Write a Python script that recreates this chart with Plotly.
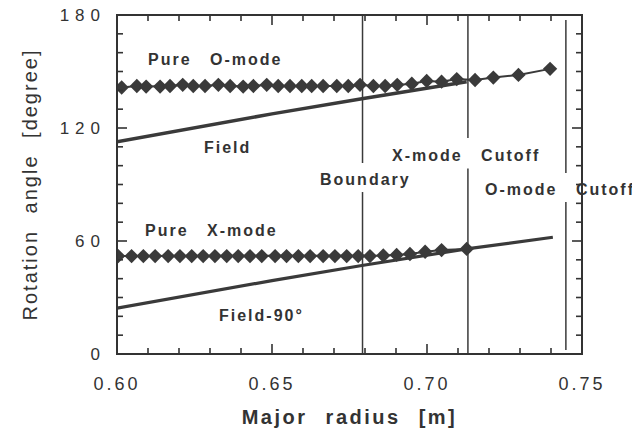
import plotly.graph_objects as go

# ---------------- data ----------------
o_x = [0.6015, 0.6064, 0.6094, 0.6139, 0.6171, 0.6212, 0.6246, 0.6284, 0.6327, 0.6365,
       0.6407, 0.6440, 0.6483, 0.6520, 0.6558, 0.6596, 0.6628, 0.6665, 0.6709, 0.6746,
       0.6784, 0.6827, 0.6865, 0.6904, 0.6951, 0.6999, 0.7047, 0.7096, 0.7155, 0.7214,
       0.7295, 0.7397]
o_y = [141.5, 142.3, 142.0, 142.0, 142.3, 142.9, 142.3, 142.3, 142.9, 142.3,
       142.0, 142.3, 142.9, 142.3, 142.3, 142.3, 142.3, 142.3, 142.3, 142.3,
       142.9, 142.3, 142.3, 142.9, 143.5, 145.0, 144.6, 146.0, 145.5, 146.8,
       148.2, 151.4]

x_x = [0.6004, 0.6047, 0.6085, 0.6123, 0.6165, 0.6203, 0.6241, 0.6278, 0.6316, 0.6354,
       0.6391, 0.6429, 0.6467, 0.6510, 0.6547, 0.6585, 0.6623, 0.6665, 0.6703, 0.6741,
       0.6778, 0.6816, 0.6859, 0.6902, 0.6945, 0.6994, 0.7047, 0.7128]
x_y = [52.0, 52.0, 52.0, 52.0, 52.0, 52.0, 52.0, 52.0, 52.0, 52.0,
       52.0, 52.0, 52.0, 52.0, 52.0, 52.0, 52.0, 52.0, 52.0, 52.0,
       52.0, 52.0, 52.3, 52.6, 53.1, 54.3, 55.2, 55.8]

field_x = [0.600, 0.650, 0.679, 0.7128]
field_y = [112.7, 127.5, 135.5, 144.6]

field90_x = [0.600, 0.650, 0.679, 0.7128, 0.7406]
field90_y = [24.3, 39.0, 47.0, 55.8, 62.0]

# vertical marker lines (position, top, gap top, gap bottom, bottom)
vline_x = [0.6792, 0.7132, 0.7448]
vline_top = [180.0, 180.0, 177.4]
vline_gap_hi = [101.4, 114.7, 96.1]
vline_gap_lo = [86.0, 98.5, 80.7]
vline_bottom = [0.0, 0.0, 2.1]

label_text = ["Pure O-mode", "Field", "Boundary", "X-mode Cutoff",
              "O-mode Cutoff", "Pure X-mode", "Field-90°"]
label_x = [0.6316, 0.6358, 0.6800, 0.7126, 0.7430, 0.6306, 0.6467]
label_y = [156.3, 109.9, 92.4, 105.6, 87.1, 65.6, 20.7]

x_ticks = [0.60, 0.65, 0.70, 0.75]
x_ticktext = ["0.60", "0.65", "0.70", "0.75"]
x_minor = [0.61, 0.62, 0.63, 0.64, 0.66, 0.67, 0.68, 0.69, 0.71, 0.72, 0.73, 0.74]
y_ticks = [0, 60, 120, 180]
y_ticktext = ["0", "60", "120", "180"]
y_minor = [10, 20, 30, 40, 50, 70, 80, 90, 100, 110, 130, 140, 150, 160, 170]

X_RANGE = [0.60, 0.75]
Y_RANGE = [0, 180]

# ---------------- style ----------------
INK = "#3a3a3a"
AX = "#333333"
FONT = "Liberation Sans, Arial, Helvetica, sans-serif"
PLOT_W, PLOT_H = 465, 339          # plot-area size in px
MAJOR_LEN, MINOR_LEN = 10, 6       # tick lengths in px


def spaced(s, ls, ws=0):
    return f'<span style="letter-spacing:{ls}px;word-spacing:{ws}px">{s}</span>'


fig = go.Figure()

fig.add_trace(go.Scatter(x=field_x, y=field_y, mode="lines",
                         line=dict(color=INK, width=3.5), hoverinfo="skip"))
fig.add_trace(go.Scatter(x=field90_x, y=field90_y, mode="lines",
                         line=dict(color=INK, width=3.2), hoverinfo="skip"))

for vx, t, gh, gl, b in zip(vline_x, vline_top, vline_gap_hi, vline_gap_lo, vline_bottom):
    fig.add_trace(go.Scatter(x=[vx, vx, None, vx, vx], y=[t, gh, None, gl, b],
                             mode="lines", line=dict(color=INK, width=1.5),
                             hoverinfo="skip"))

fig.add_trace(go.Scatter(x=o_x, y=o_y, mode="lines+markers",
                         line=dict(color=INK, width=2),
                         marker=dict(symbol="diamond", size=11, color=INK),
                         hoverinfo="skip"))
fig.add_trace(go.Scatter(x=x_x, y=x_y, mode="lines+markers",
                         line=dict(color=INK, width=2),
                         marker=dict(symbol="diamond", size=11, color=INK),
                         hoverinfo="skip"))

# inward tick marks on all four sides, drawn as line traces on the axes' scales
xspan = X_RANGE[1] - X_RANGE[0]
yspan = Y_RANGE[1] - Y_RANGE[0]
tx, ty = [], []
for vals, ln in ((x_ticks, MAJOR_LEN), (x_minor, MINOR_LEN)):
    d = ln / PLOT_H * yspan
    for v in vals:
        tx += [v, v, None, v, v, None]
        ty += [Y_RANGE[0], Y_RANGE[0] + d, None, Y_RANGE[1], Y_RANGE[1] - d, None]
for vals, ln in ((y_ticks, MAJOR_LEN), (y_minor, MINOR_LEN)):
    d = ln / PLOT_W * xspan
    for v in vals:
        tx += [X_RANGE[0], X_RANGE[0] + d, None, X_RANGE[1], X_RANGE[1] - d, None]
        ty += [v, v, None, v, v, None]
fig.add_trace(go.Scatter(x=tx, y=ty, mode="lines", line=dict(color=AX, width=1.6),
                         cliponaxis=False, hoverinfo="skip"))

# plot frame
fig.add_shape(type="rect", xref="x domain", yref="y domain", x0=0, x1=1, y0=0, y1=1,
              line=dict(color=AX, width=2), fillcolor="rgba(0,0,0,0)", layer="above")

for t, lx, ly in zip(label_text, label_x, label_y):
    fig.add_annotation(x=lx, y=ly, text=spaced(t, 2, 12), showarrow=False,
                       font=dict(family=FONT, size=16, color=AX, weight="bold"),
                       xanchor="center", yanchor="middle")

fig.update_xaxes(range=X_RANGE, tickmode="array", tickvals=x_ticks,
                 ticktext=[spaced(t, 3) for t in x_ticktext],
                 showgrid=False, zeroline=False, showline=False, ticks="",
                 automargin=False,
                 ticklabelstandoff=17, ticklabeloverflow="allow",
                 tickfont=dict(family=FONT, size=18, color=AX),
                 title=dict(text=spaced("Major radius [m]", 2.5, 10),
                            font=dict(family=FONT, size=20, color=AX, weight="bold"),
                            standoff=16))
fig.update_yaxes(range=Y_RANGE, tickmode="array", tickvals=y_ticks,
                 ticktext=[spaced(t, 6) for t in y_ticktext],
                 showgrid=False, zeroline=False, showline=False, ticks="",
                 automargin=False,
                 ticklabelstandoff=10, ticklabeloverflow="allow",
                 tickfont=dict(family=FONT, size=17, color=AX),
                 title=dict(text=spaced("Rotation angle [degree]", 2, 9),
                            font=dict(family=FONT, size=20, color=AX),
                            standoff=16))

# the page body has an 8px default margin; compensate so the plot area matches
fig.update_layout(width=632, height=428, showlegend=False,
                  margin=dict(l=109, r=58, t=7, b=82, autoexpand=False),
                  paper_bgcolor="white", plot_bgcolor="white",
                  hovermode=False)

fig.write_html("out.html", config={"displayModeBar": False})
